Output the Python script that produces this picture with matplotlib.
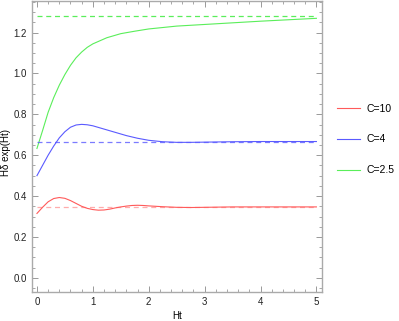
import matplotlib
matplotlib.use('Agg')
import matplotlib.pyplot as plt
from matplotlib.ticker import MultipleLocator

plt.rcParams['font.family'] = ['Liberation Sans', 'DejaVu Sans']

# C=10 (red)
x_red = [0, 0.1, 0.2, 0.3, 0.4, 0.5, 0.6, 0.7, 0.8, 0.9, 1.0, 1.1, 1.2, 1.3, 1.4,
         1.5, 1.6, 1.7, 1.8, 1.9, 2.0, 2.25, 2.5, 2.75, 3.0, 3.5, 4.0, 5.0]
y_red = [0.315, 0.345, 0.372, 0.388, 0.393, 0.389, 0.378, 0.364, 0.350, 0.340,
         0.334, 0.331, 0.332, 0.336, 0.342, 0.347, 0.351, 0.354, 0.355, 0.354,
         0.352, 0.348, 0.345, 0.344, 0.345, 0.347, 0.347, 0.347]
lim_red = 0.347

# C=4 (blue)
x_blue = [0, 0.1, 0.2, 0.3, 0.4, 0.5, 0.6, 0.7, 0.8, 0.9, 1.0, 1.2, 1.4, 1.6,
          1.8, 2.0, 2.25, 2.5, 2.75, 3.0, 3.5, 4.0, 5.0]
y_blue = [0.5, 0.55, 0.60, 0.645, 0.685, 0.715, 0.737, 0.748, 0.751, 0.749,
          0.744, 0.728, 0.712, 0.696, 0.683, 0.673, 0.666, 0.663, 0.663, 0.664,
          0.666, 0.667, 0.667]
lim_blue = 0.667

# C=2.5 (green)
x_green = [0, 0.1, 0.2, 0.3, 0.4, 0.5, 0.6, 0.7, 0.8, 0.9, 1.0, 1.25, 1.5,
           1.75, 2.0, 2.5, 3.0, 3.5, 4.0, 4.5, 5.0]
y_green = [0.633, 0.72, 0.81, 0.882, 0.943, 0.995, 1.04, 1.077, 1.105, 1.128,
           1.145, 1.175, 1.195, 1.207, 1.218, 1.232, 1.240, 1.248, 1.256,
           1.263, 1.27]
lim_green = 1.282

c_red = '#ff5a5a'
c_blue = '#5a5aff'
c_green = '#5aee5a'

fig = plt.figure(figsize=(3.99, 3.21), dpi=100)
ax = fig.add_axes([0.080, 0.090, 0.727, 0.907])

ax.plot(x_red, y_red, color=c_red, lw=0.8, label='C=10')
ax.plot(x_blue, y_blue, color=c_blue, lw=0.8, label='C=4')
ax.plot(x_green, y_green, color=c_green, lw=0.8, label='C=2.5')

ax.plot([0, 5], [lim_red, lim_red], color=c_red, lw=0.9, ls=(0, (4, 3)), alpha=0.5)
ax.plot([0, 5], [lim_blue, lim_blue], color=c_blue, lw=0.9, ls=(0, (4, 3)), alpha=0.8)
ax.plot([0, 5], [lim_green, lim_green], color=c_green, lw=0.9, ls=(0, (4, 3)))

ax.set_xlim(-0.09, 5.1)
ax.set_ylim(-0.07, 1.355)

ax.xaxis.set_major_locator(MultipleLocator(1))
ax.xaxis.set_minor_locator(MultipleLocator(0.2))
ax.yaxis.set_major_locator(MultipleLocator(0.2))
ax.yaxis.set_minor_locator(MultipleLocator(0.05))
ax.tick_params(which='both', direction='in', top=True, right=True,
               colors='#999999', labelcolor='#222222', labelsize=7)
ax.tick_params(which='major', length=4, width=0.7)
ax.tick_params(which='minor', length=2, width=0.6)
for s in ax.spines.values():
    s.set_color('#aaaaaa')
    s.set_linewidth(1.0)

ax.set_xlabel('Ht', fontsize=7)
ax.set_ylabel('Hδ exp(Ht)', fontsize=7)
ax.xaxis.set_label_coords(0.5, -0.065)
ax.yaxis.set_label_coords(-0.072, 0.48)

ax.legend(loc='upper left', bbox_to_anchor=(1.02, 0.68), frameon=False,
          fontsize=7.5, handlelength=2.2, labelspacing=2.0, handletextpad=0.6)

fig.savefig('out.png', dpi=100)
